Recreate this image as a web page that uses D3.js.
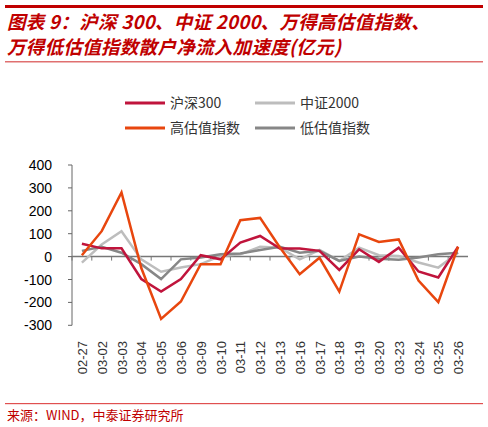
<!DOCTYPE html><html><head><meta charset="utf-8"><script src="https://cdn.jsdelivr.net/npm/d3@7"></script>
<style>body{margin:0;background:#fff}</style></head><body><svg id="c" width="488" height="427"></svg>
<script>
const categories=["02-27","03-02","03-03","03-04","03-05","03-06","03-09","03-10","03-11","03-12","03-13","03-16","03-17","03-18","03-19","03-20","03-23","03-24","03-25","03-26"];
const hs300=[56,36,36,-98,-153,-98,6,-12,61,90,35,35,25,-58,32,-23,39,-65,-91,43];
const zz2000=[-26,53,111,-12,-66,-48,-33,3,10,43,39,-12,29,-19,39,6,3,-26,-48,17];
const highVal=[6,111,280,-50,-272,-196,-33,-33,159,169,40,-77,-5,-153,97,64,75,-105,-199,43];
const lowVal=[25,43,17,-33,-98,-12,-4,10,14,29,43,17,25,-19,0,-9,-14,-4,10,17];
const yTicks=[400,300,200,100,0,-100,-200,-300];
const series=[
 {name:"沪深300",data:hs300,color:"#c0143c",w:2.5},
 {name:"中证2000",data:zz2000,color:"#bdbdbd",w:2.5},
 {name:"高估值指数",data:highVal,color:"#e8460e",w:2.5},
 {name:"低估值指数",data:lowVal,color:"#878787",w:2.5}];
const svg=d3.select("#c");
const red="#c00000";
svg.append("rect").attr("x",5).attr("y",5).attr("width",478).attr("height",3).attr("fill","#c00000");
svg.append("rect").attr("x",5).attr("y",61).attr("width",478).attr("height",1.5).attr("fill","#e07070");
const tf="'Noto Sans CJK SC',sans-serif";
["图表 9：沪深 300、中证 2000、万得高估值指数、","万得低估值指数散户净流入加速度(亿元)"].forEach((t,i)=>
 svg.append("text").attr("x",7).attr("y",29+i*25).text(t).attr("font-family",tf).attr("font-size",18.5).attr("font-weight","bold").attr("font-style","italic").attr("letter-spacing",0.3).attr("fill",red));
const x=d3.scalePoint().domain(categories).range([72,468]).padding(0.5);
const y=d3.scaleLinear().domain([-300,400]).range([325.3,165]);
const g=svg.append("g");
g.append("line").attr("x1",72).attr("x2",72).attr("y1",y(400)).attr("y2",y(-300)).attr("stroke","#666");
yTicks.forEach(t=>{g.append("line").attr("x1",68).attr("x2",72).attr("y1",y(t)).attr("y2",y(t)).attr("stroke","#666");
 g.append("text").attr("x",52).attr("y",y(t)+5).attr("text-anchor","end").attr("font-family","Arial,sans-serif").attr("font-size",14).attr("fill","#000").text(t);});
g.append("line").attr("x1",72).attr("x2",468).attr("y1",y(0)).attr("y2",y(0)).attr("stroke","#777").attr("stroke-width",1.5);
categories.forEach((c,i)=>{const xx=72+i*19.8;g.append("line").attr("x1",xx).attr("x2",xx).attr("y1",y(0)).attr("y2",y(0)+4).attr("stroke","#777");
 g.append("text").attr("transform",`translate(${x(c)+5},341) rotate(-90)`).attr("text-anchor","end").attr("font-family","Arial,sans-serif").attr("font-size",13).attr("fill","#333").text(c);});
const line=d3.line().x((d,i)=>x(categories[i])).y(d=>y(d));
[1,3,0,2].forEach(k=>{const s=series[k];g.append("path").attr("d",line(s.data)).attr("fill","none").attr("stroke",s.color).attr("stroke-width",s.w).attr("stroke-linejoin","miter");});
const leg=[[125,103],[255,103],[125,128],[255,128]];
series.forEach((s,i)=>{const [lx,ly]=leg[i];
 svg.append("line").attr("x1",lx).attr("x2",lx+40).attr("y1",ly).attr("y2",ly).attr("stroke",s.color).attr("stroke-width",3);
 svg.append("text").attr("x",lx+45).attr("y",ly+5).attr("font-family",tf).attr("font-size",14).attr("fill","#333").text(s.name);});
svg.append("rect").attr("x",5).attr("y",403).attr("width",478).attr("height",1.2).attr("fill","#e05050");
svg.append("text").attr("x",7).attr("y",420).attr("font-family",tf).attr("font-size",13).attr("fill",red).text("来源：WIND，中泰证券研究所");
</script></body></html>
